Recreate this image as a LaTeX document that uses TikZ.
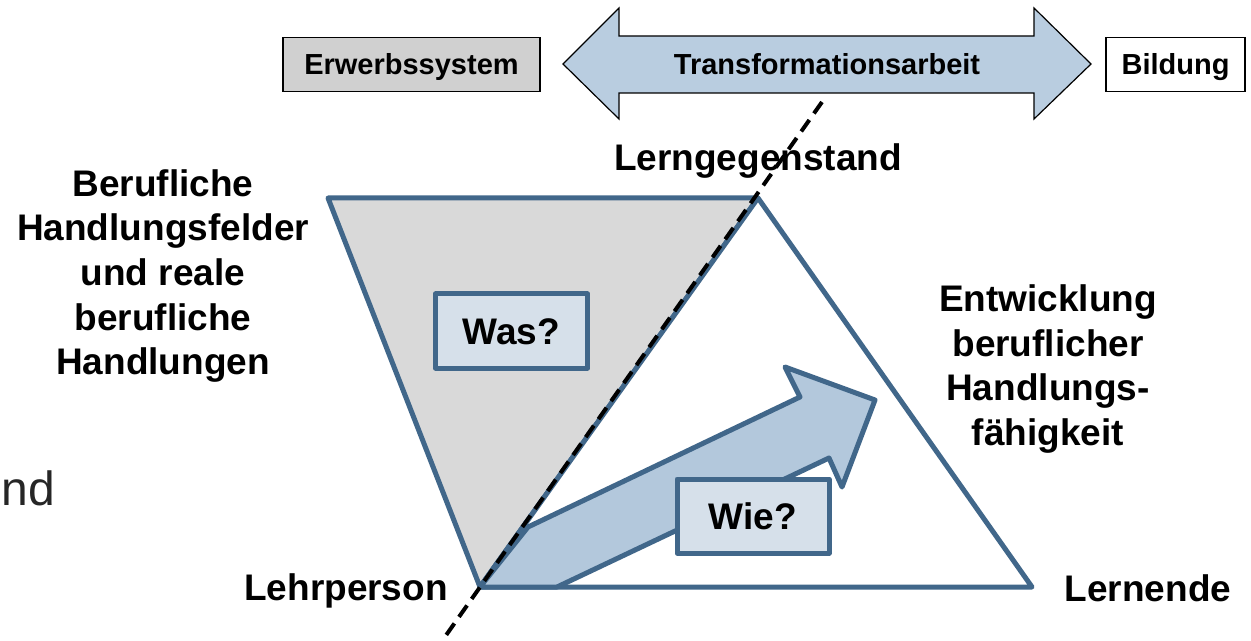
\documentclass[tikz,border=0pt]{standalone}
\usepackage{fontspec}
\setmainfont{Liberation Sans}

\definecolor{edgeblue}{RGB}{65,103,138}
\definecolor{arrowblue}{RGB}{179,200,220}
\definecolor{boxblue}{RGB}{214,224,234}
\definecolor{trigrey}{RGB}{217,217,217}
\definecolor{boxgrey}{RGB}{208,208,208}
\definecolor{topblue}{RGB}{185,205,224}

\tikzset{
  edge/.style={draw=edgeblue, line width=2.5pt, line join=round},
  label/.style={font=\fontsize{18.5}{22.3}\selectfont\bfseries, align=center, inner sep=0pt},
  qbox/.style={edge, fill=boxblue, minimum width=76pt, minimum height=37pt, inner sep=0pt, text height=13.2pt, text depth=0pt},
  topbox/.style={draw=black, line width=0.8pt, font=\fontsize{14.5}{17}\selectfont\bfseries, minimum height=27pt, inner sep=0pt, text height=10.4pt, text depth=0pt}
}

\begin{document}
\begin{tikzpicture}[x=0.5pt,y=-0.5pt]
			\useasboundingbox (0,0) rectangle (1251,641);
			% corners of the triangles
			\coordinate (feld) at (328,198);
			\coordinate (gegen) at (758,198);
			\coordinate (lehr) at (480,587);
			\coordinate (lern) at (1032,587);
			\draw[edge, fill=trigrey] (feld) -- (gegen) -- (lehr) -- cycle;
			\draw[edge, fill=white] (gegen) -- (lern) -- (lehr) -- cycle;
			% big arrow
			\draw[edge, fill=arrowblue] (lehr) -- (557,587) -- (829,458) -- (842,487) -- (875,400) -- (785,367) -- (800,397) -- (528,527) -- cycle;
			% dashed line
			\coordinate (dtop) at (822,102);
			\coordinate (dbot) at (442,641);
			\draw[black, line width=2pt, dash pattern=on 7pt off 4pt] (dtop) -- (dbot);
			% top row
			\draw[black, line width=0.6pt, fill=topblue] (563,64) -- (619,8) -- (619,36) -- (1034,36) -- (1034,8) -- (1091,64) -- (1034,119) -- (1034,93) -- (619,93) -- (619,119) -- cycle;
			\node[topbox, draw=none, fill=none] (trans) at (827,64.5) {Transformationsarbeit};
			\node[topbox, fill=boxgrey, minimum width=128.5pt] (erwerb) at (411.5,64.5) {Erwerbssystem};
			\node[topbox, fill=white, minimum width=69.5pt] (bild) at (1175.5,64.5) {Bildung};
			% boxes
			\node[qbox] (was) at (511.5,331) {\fontsize{18.5}{22}\selectfont\bfseries Was?};
			\node[qbox] (wie) at (753,516) {\fontsize{18.5}{22}\selectfont\bfseries Wie?};
			% labels
			\node[label] (lgeg) at (758,161) {Lerngegenstand};
			\node[label] (bhf) at (163,276) {Berufliche\\Handlungsfelder\\und reale\\berufliche\\Handlungen};
			\node[label] (ebh) at (1048,369) {Entwicklung\\beruflicher\\Handlungs-\\fähigkeit};
			\node[label] (lp) at (346,591) {Lehrperson};
			\node[label] (lnd) at (1148,588) {Lernende};
			\node[anchor=base west, inner sep=0pt, font=\fontsize{24}{28}\selectfont, text=black!85] (nd) at (1,505) {nd};
		\end{tikzpicture}
\end{document}
